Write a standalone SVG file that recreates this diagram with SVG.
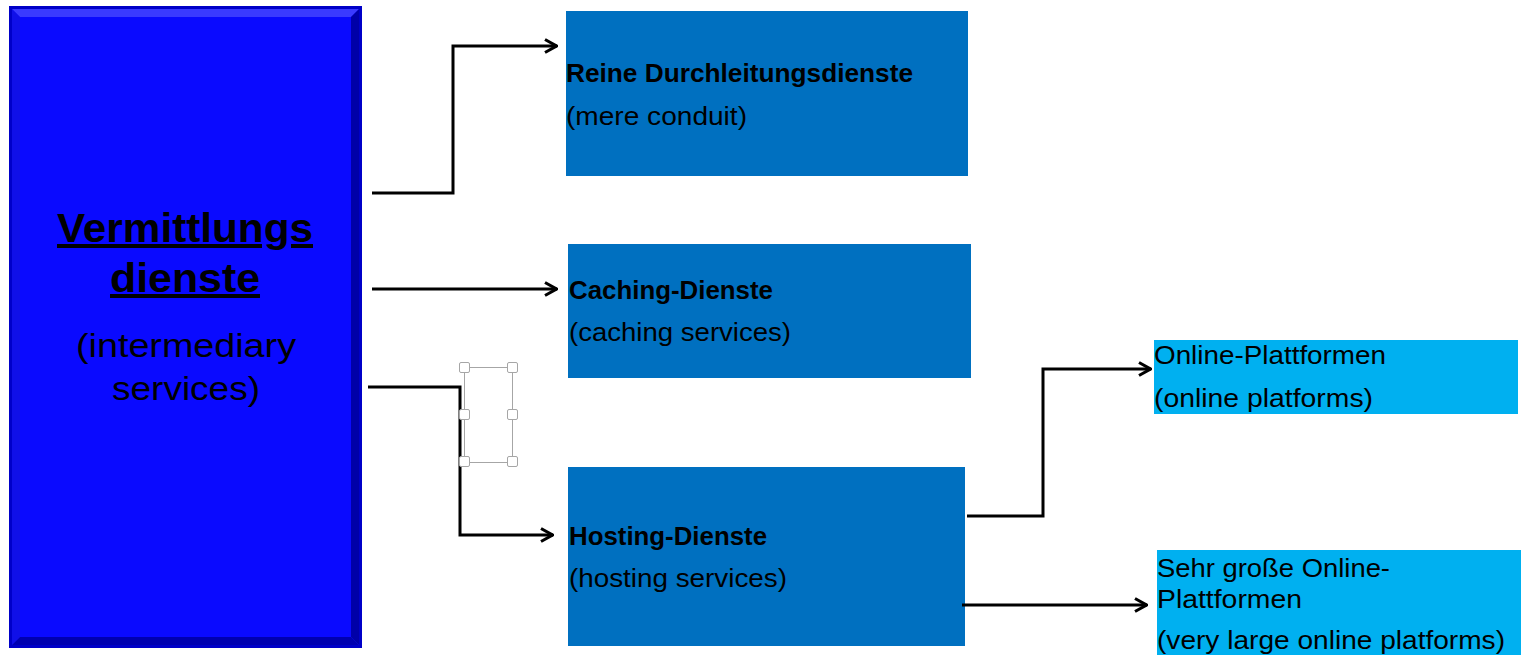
<svg xmlns="http://www.w3.org/2000/svg" width="1521" height="655" viewBox="0 0 1521 655">
<defs>
<style>
.t{font-family:"Liberation Sans",Arial,sans-serif;fill:#000;}
.b{font-weight:bold;}
.dark{fill:#0070C0;}
.light{fill:#00B0F0;}
.conn{fill:none;stroke:#000;stroke-width:3;}
.h{fill:#fff;stroke:#a6a6a6;stroke-width:1;}
</style>
<marker id="arr" viewBox="0 0 16 16" refX="15" refY="8" markerWidth="16" markerHeight="16" markerUnits="userSpaceOnUse" orient="auto">
<path d="M3,1.5 L14.5,8 L3,14.5" fill="none" stroke="#000" stroke-width="3"/>
</marker>
</defs>
<rect width="1521" height="655" fill="#fff"/>
<g id="node-vermittlungsdienste">
<rect x="9" y="6" width="353" height="642" fill="#0000c8"/>
<rect x="12" y="9" width="347" height="636" fill="#1a1aff"/>
<polygon points="12,9 359,9 351,17 20,17" fill="#3a3aff"/>
<polygon points="12,9 20,17 20,637 12,645" fill="#1010e8"/>
<polygon points="359,9 359,645 351,637 351,17" fill="#0000a8"/>
<polygon points="12,645 359,645 351,637 20,637" fill="#0000b0"/>
<rect x="20" y="17" width="331" height="620" fill="#0a0aff"/>
<text class="t b" x="185" y="242" font-size="40" text-anchor="middle" text-decoration="underline" textLength="256" lengthAdjust="spacingAndGlyphs">Vermittlungs</text>
<text class="t b" x="185" y="292" font-size="40" text-anchor="middle" text-decoration="underline" textLength="150" lengthAdjust="spacingAndGlyphs">dienste</text>
<text class="t" x="186" y="357" font-size="34" text-anchor="middle" textLength="220" lengthAdjust="spacingAndGlyphs">(intermediary</text>
<text class="t" x="186" y="400" font-size="34" text-anchor="middle" textLength="148" lengthAdjust="spacingAndGlyphs">services)</text>
</g>
<g id="node-durchleitung">
<rect class="dark" x="566" y="11" width="402" height="165"/>
<text class="t b" x="566" y="82" font-size="26" textLength="347" lengthAdjust="spacingAndGlyphs">Reine Durchleitungsdienste</text>
<text class="t" x="566" y="125" font-size="26" textLength="181" lengthAdjust="spacingAndGlyphs">(mere conduit)</text>
</g>
<g id="node-caching">
<rect class="dark" x="568" y="244" width="403" height="134"/>
<text class="t b" x="569" y="299" font-size="26" textLength="204" lengthAdjust="spacingAndGlyphs">Caching-Dienste</text>
<text class="t" x="569" y="341" font-size="26" textLength="222" lengthAdjust="spacingAndGlyphs">(caching services)</text>
</g>
<g id="node-hosting">
<rect class="dark" x="568" y="467" width="397" height="179"/>
<text class="t b" x="569" y="545" font-size="26" textLength="198" lengthAdjust="spacingAndGlyphs">Hosting-Dienste</text>
<text class="t" x="569" y="587" font-size="26" textLength="218" lengthAdjust="spacingAndGlyphs">(hosting services)</text>
</g>
<g id="node-online">
<rect class="light" x="1154" y="340" width="364" height="74"/>
<text class="t" x="1154" y="364" font-size="26" textLength="232" lengthAdjust="spacingAndGlyphs">Online-Plattformen</text>
<text class="t" x="1154" y="407" font-size="26" textLength="219" lengthAdjust="spacingAndGlyphs">(online platforms)</text>
</g>
<g id="node-vlop">
<rect class="light" x="1157" y="550" width="364" height="105"/>
<text class="t" x="1157" y="577" font-size="26" textLength="233" lengthAdjust="spacingAndGlyphs">Sehr große Online-</text>
<text class="t" x="1157" y="608" font-size="26" textLength="145" lengthAdjust="spacingAndGlyphs">Plattformen</text>
<text class="t" x="1157" y="649" font-size="26" textLength="348" lengthAdjust="spacingAndGlyphs">(very large online platforms)</text>
</g>
<g id="connectors">
<polyline class="conn" points="372,193 453,193 453,46 557,46" marker-end="url(#arr)"/>
<polyline class="conn" points="372,289 557,289" marker-end="url(#arr)"/>
<polyline class="conn" points="368,387 460,387 460,535 553,535" marker-end="url(#arr)"/>
<polyline class="conn" points="967,516 1043,516 1043,369 1151,369" marker-end="url(#arr)"/>
<polyline class="conn" points="962,605 1147,605" marker-end="url(#arr)"/>
</g>
<g id="selection-frame">
<rect x="464.5" y="367.5" width="48" height="95" fill="none" stroke="#a6a6a6" stroke-width="1"/>
<rect class="h" x="459.5" y="362.5" width="10" height="10" rx="1.5"/>
<rect class="h" x="507.5" y="362.5" width="10" height="10" rx="1.5"/>
<rect class="h" x="459.5" y="409.5" width="10" height="10" rx="1.5"/>
<rect class="h" x="507.5" y="409.5" width="10" height="10" rx="1.5"/>
<rect class="h" x="459.5" y="456.5" width="10" height="10" rx="1.5"/>
<rect class="h" x="507.5" y="456.5" width="10" height="10" rx="1.5"/>
</g>
</svg>
